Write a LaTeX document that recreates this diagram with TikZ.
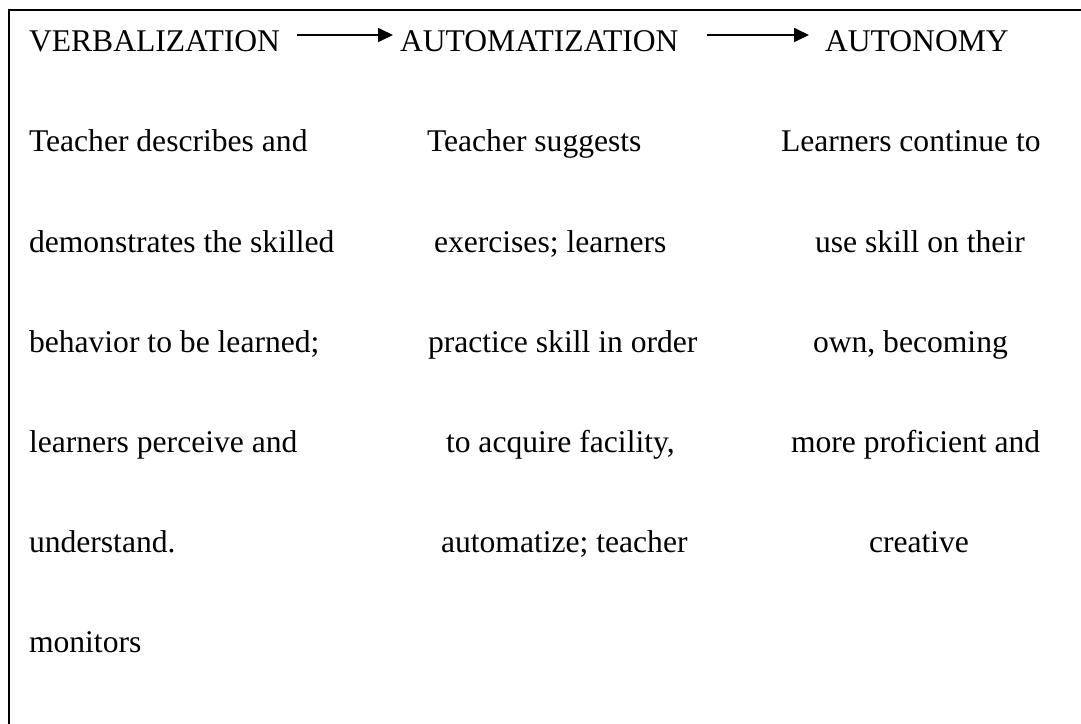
\documentclass[tikz,border=0pt]{standalone}
\usepackage{fontspec}
\setmainfont{Liberation Serif}
\usetikzlibrary{arrows.meta,calc}

\begin{document}
\begin{tikzpicture}[x=1bp,y=1bp,
  txt/.style={anchor=base west,inner sep=0pt,outer sep=0pt,
    font=\fontsize{31.6bp}{38bp}\selectfont},
  flow/.style={line width=1.7bp,-{Triangle[length=15bp,width=14bp]}},
  frame/.style={line width=2bp}]
\useasboundingbox (0,0) rectangle (1081,-724);

% open frame: top rule and left rule
\draw[frame] (8.5,-724) -- (8.5,-10) -- (1081,-10);

% stage headings
\node[txt] (verb)  at (29,-52)  {VERBALIZATION};
\node[txt] (autom) at (400,-52) {AUTOMATIZATION};
\node[txt] (auton) at (825,-52) {AUTONOMY};

\draw[flow] ($(verb.base east)+(17,17)$) -- ($(autom.base west)+(-7,17)$);
\draw[flow] ($(autom.base east)+(28,17)$) -- ($(auton.base west)+(-16,17)$);

% first column
\node[txt] (v1) at (29,-152) {Teacher describes and};
\node[txt] (v2) at (29,-252) {demonstrates the skilled};
\node[txt] (v3) at (29,-352) {behavior to be learned;};
\node[txt] (v4) at (29,-452) {learners perceive and};
\node[txt] (v5) at (29,-552) {understand.};
\node[txt] (v6) at (29,-652) {monitors};

% second column
\node[txt] (m1) at (427,-152) {Teacher suggests};
\node[txt] (m2) at (434,-252) {exercises; learners};
\node[txt] (m3) at (428,-352) {practice skill in order};
\node[txt] (m4) at (446,-452) {to acquire facility,};
\node[txt] (m5) at (441,-552) {automatize; teacher};

% third column
\node[txt] (n1) at (781,-152) {Learners continue to};
\node[txt] (n2) at (815,-252) {use skill on their};
\node[txt] (n3) at (813,-352) {own, becoming};
\node[txt] (n4) at (791,-452) {more proficient and};
\node[txt] (n5) at (869,-552) {creative};
\end{tikzpicture}
\end{document}
